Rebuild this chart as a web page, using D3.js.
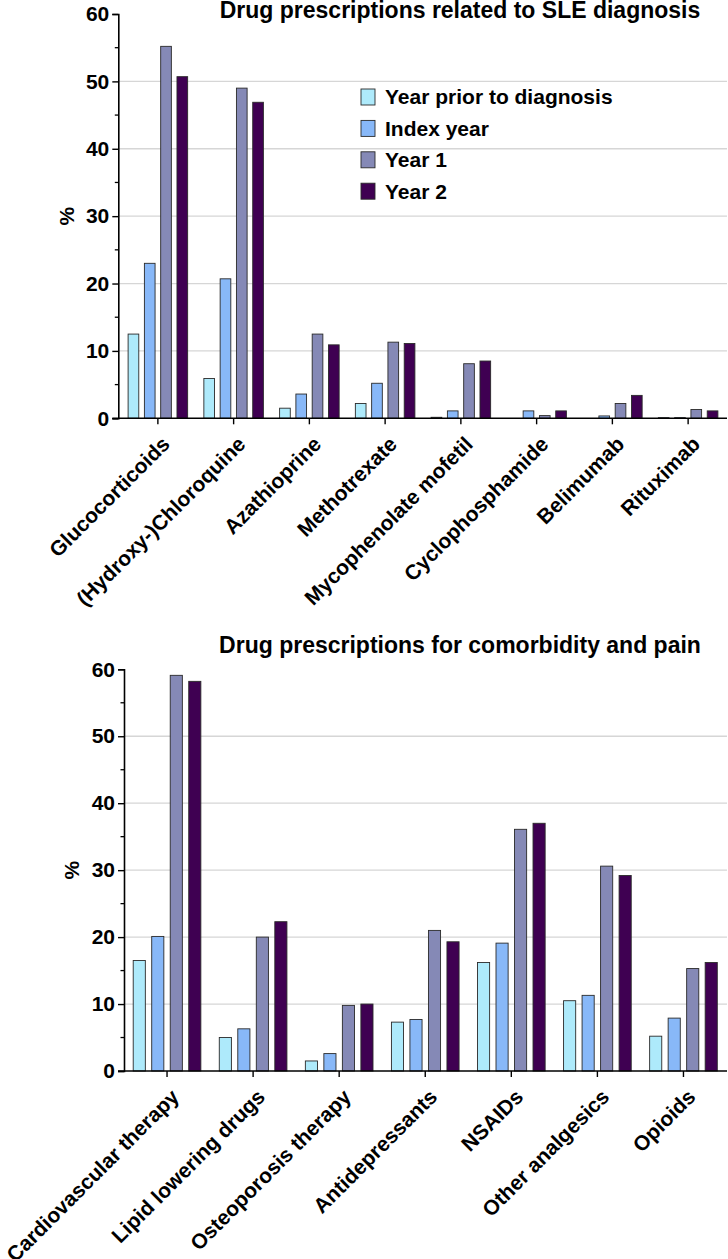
<!DOCTYPE html>
<html>
<head>
<meta charset="utf-8">
<script src="https://cdn.jsdelivr.net/npm/d3@7"></script>
<style>
  html, body { margin: 0; padding: 0; background: #fff; }
  svg { display: block; }
  text { font-family: "Liberation Sans", Arial, sans-serif; font-weight: bold; fill: #000; }
</style>
</head>
<body>
<svg id="chart" width="728" height="1259"></svg>
<script>
// ---------- DATA ----------
const seriesNames = ["Year prior to diagnosis", "Index year", "Year 1", "Year 2"];
const seriesColors = ["#aeeafb", "#88b8f8", "#8589b6", "#3f0052"];

const topTitle = "Drug prescriptions related to SLE diagnosis";
const topCategories = ["Glucocorticoids", "(Hydroxy-)Chloroquine", "Azathioprine", "Methotrexate",
  "Mycophenolate mofetil", "Cyclophosphamide", "Belimumab", "Rituximab"];
const topYearPrior = [12.5, 5.9, 1.5, 2.2, 0.15, 0, 0, 0.1];
const topIndexYear = [23.0, 20.7, 3.6, 5.2, 1.1, 1.1, 0.35, 0.1];
const topYear1     = [55.2, 49.0, 12.5, 11.3, 8.1, 0.4, 2.2, 1.3];
const topYear2     = [50.7, 46.9, 10.9, 11.1, 8.5, 1.1, 3.4, 1.1];

const bottomTitle = "Drug prescriptions for comorbidity and pain";
const bottomCategories = ["Cardiovascular therapy", "Lipid lowering drugs", "Osteoporosis therapy",
  "Antidepressants", "NSAIDs", "Other analgesics", "Opioids"];
const bottomYearPrior = [16.5, 5.0, 1.5, 7.3, 16.2, 10.5, 5.2];
const bottomIndexYear = [20.1, 6.3, 2.6, 7.7, 19.1, 11.3, 7.9];
const bottomYear1     = [59.1, 20.0, 9.8, 21.0, 36.1, 30.6, 15.3];
const bottomYear2     = [58.2, 22.3, 10.0, 19.3, 37.0, 29.2, 16.2];

const yTicks = [0, 10, 20, 30, 40, 50, 60];
const yMinorTicks = [5, 15, 25, 35, 45, 55];
const yLabel = "%";

// ---------- DRAW ----------
const svg = d3.select("#chart");

function drawPanel(cfg) {
  const { categories, values, title, axisX, rightX, bandRange, yBottom, yTop, titleY, yLabelX, showLegend } = cfg;
  const g = svg.append("g");

  const y = d3.scaleLinear().domain([0, 60]).range([yBottom, yTop]);
  const x0 = d3.scaleBand().domain(categories).range(bandRange).paddingInner(0).paddingOuter(0);
  const groupW = x0.bandwidth() * 0.786;
  const x1 = d3.scaleBand().domain(seriesNames)
    .range([(x0.bandwidth() - groupW) / 2, (x0.bandwidth() + groupW) / 2])
    .paddingInner(0.345).paddingOuter(0);
  const color = d3.scaleOrdinal().domain(seriesNames).range(seriesColors);

  // grid
  g.append("g").selectAll("line")
    .data(yTicks.filter(t => t > 0 && t < 60))
    .join("line")
    .attr("x1", axisX).attr("x2", rightX)
    .attr("y1", d => y(d)).attr("y2", d => y(d))
    .attr("stroke", "#d6d6d6").attr("stroke-width", 1.3);

  // bars
  const rows = categories.map((c, i) => ({ cat: c, vals: values.map(v => v[i]) }));
  g.append("g").selectAll("g")
    .data(rows)
    .join("g")
    .attr("transform", d => `translate(${x0(d.cat)},0)`)
    .selectAll("rect")
    .data(d => d.vals.map((v, j) => ({ key: seriesNames[j], v })))
    .join("rect")
    .attr("x", d => x1(d.key))
    .attr("width", x1.bandwidth())
    .attr("y", d => y(d.v))
    .attr("height", d => Math.max(0, y(0) - y(d.v)))
    .attr("fill", d => color(d.key))
    .attr("stroke", d => d.v > 0 ? "#2a2a2a" : "none")
    .attr("stroke-width", 0.9);

  // y axis
  const yAxis = d3.axisLeft(y).tickValues(yTicks).tickSize(6).tickPadding(3).tickFormat(d3.format("d"));
  const ya = g.append("g").attr("transform", `translate(${axisX},0)`).call(yAxis);
  ya.select(".domain").attr("stroke", "#000").attr("stroke-width", 1.6);
  ya.selectAll(".tick line").attr("stroke", "#000").attr("stroke-width", 1.4);
  ya.selectAll(".tick text").style("font-size", "21px").style("font-weight", "bold")
    .style("font-family", '"Liberation Sans", Arial, sans-serif').attr("fill", "#000");
  // minor ticks
  g.append("g").selectAll("line").data(yMinorTicks).join("line")
    .attr("x1", axisX - 3.5).attr("x2", axisX)
    .attr("y1", d => y(d)).attr("y2", d => y(d))
    .attr("stroke", "#000").attr("stroke-width", 1.3);

  // x axis
  const xAxis = d3.axisBottom(x0).tickSize(6).tickFormat("");
  const xa = g.append("g").attr("transform", `translate(0,${yBottom})`).call(xAxis);
  xa.select(".domain").remove();
  xa.selectAll(".tick line").attr("stroke", "#000").attr("stroke-width", 1.4);
  g.append("line").attr("x1", axisX - 6).attr("x2", rightX)
    .attr("y1", yBottom).attr("y2", yBottom).attr("stroke", "#000").attr("stroke-width", 1.6);

  // category labels
  g.append("g").selectAll("text").data(categories).join("text")
    .attr("transform", d => `translate(${x0(d) + x0.bandwidth() / 2 + 8},${yBottom + 22}) rotate(-45)`)
    .attr("text-anchor", "end")
    .attr("dy", "0.35em")
    .style("font-size", "21px")
    .text(d => d);

  // y label
  g.append("text")
    .attr("transform", `translate(${yLabelX},${(yBottom + yTop) / 2}) rotate(-90)`)
    .attr("text-anchor", "middle")
    .attr("dy", "0.35em")
    .style("font-size", "21px")
    .text(yLabel);

  // title
  g.append("text")
    .attr("x", 460).attr("y", titleY)
    .attr("text-anchor", "middle")
    .style("font-size", "23px")
    .text(title);

  if (showLegend) {
    const lg = g.append("g").attr("transform", "translate(361,89)");
    const item = lg.selectAll("g").data(seriesNames).join("g")
      .attr("transform", (d, i) => `translate(0,${i * 31.4})`);
    item.append("rect").attr("width", 14).attr("height", 16)
      .attr("fill", d => color(d)).attr("stroke", "#2a2a2a").attr("stroke-width", 0.9);
    item.append("text").attr("x", 24).attr("y", 15.3)
      .style("font-size", "21px").text(d => d);
  }
}

drawPanel({
  categories: topCategories,
  values: [topYearPrior, topIndexYear, topYear1, topYear2],
  title: topTitle,
  axisX: 118.3, rightX: 727,
  bandRange: [120, 726],
  yBottom: 418.3, yTop: 14,
  titleY: 18,
  yLabelX: 67,
  showLegend: true
});

drawPanel({
  categories: bottomCategories,
  values: [bottomYearPrior, bottomIndexYear, bottomYear1, bottomYear2],
  title: bottomTitle,
  axisX: 124, rightX: 727,
  bandRange: [124, 726.5],
  yBottom: 1071, yTop: 669.3,
  titleY: 652.7,
  yLabelX: 72,
  showLegend: false
});
</script>
</body>
</html>
